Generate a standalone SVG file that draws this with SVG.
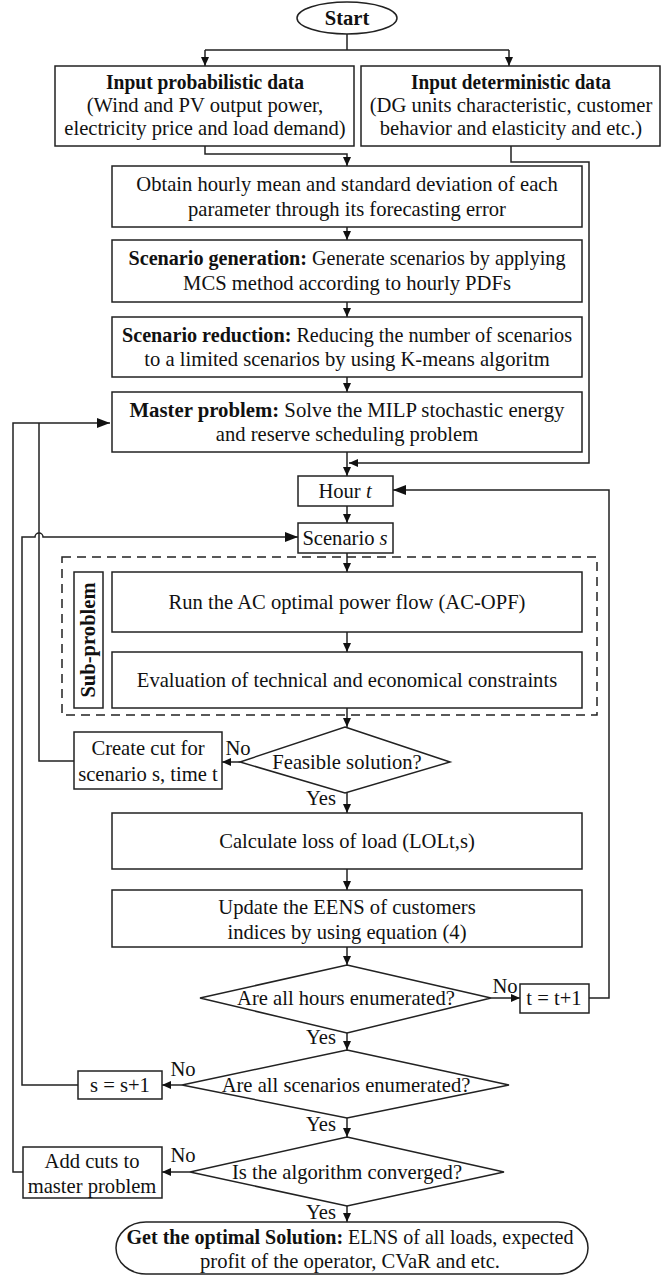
<svg xmlns="http://www.w3.org/2000/svg" width="667" height="1276" viewBox="0 0 667 1276">
<style>
.b{fill:#fff;stroke:#222;stroke-width:1.5}
.t{font-family:"Liberation Serif","Times New Roman",serif;font-size:20.6px;fill:#111;text-anchor:middle}
.bd{font-weight:bold}
.l{fill:none;stroke:#222;stroke-width:1.5}
.la{fill:none;stroke:#222;stroke-width:1.5;marker-end:url(#a)}
.lb{fill:none;stroke:#222;stroke-width:1.5;marker-end:url(#ab)}
</style>
<defs>
<marker id="a" markerWidth="9" markerHeight="8" refX="9" refY="4" orient="auto" markerUnits="userSpaceOnUse"><path d="M0,0 L9,4 L0,8 z" fill="#111"/></marker>
<marker id="ab" markerWidth="13" markerHeight="10" refX="13" refY="5" orient="auto" markerUnits="userSpaceOnUse"><path d="M0,0 L13,5 L0,10 z" fill="#111"/></marker>
</defs>
<rect width="667" height="1276" fill="#fff"/>

<g id="connectors">
<path class="l" d="M347,34 V50 M205,50 H509"/>
<path class="la" d="M205,50 V66"/>
<path class="la" d="M509,50 V66"/>
<path class="la" d="M205,146 V154 H347 V166"/>
<path class="la" d="M347,227 V240"/>
<path class="la" d="M347,302 V317"/>
<path class="la" d="M347,377 V392"/>
<path class="la" d="M511,146 V162 H589 V463 H349"/>
<path class="la" d="M347,452 V476"/>
<path class="la" d="M347,506 V523"/>
<path class="la" d="M347,553 V572"/>
<path class="la" d="M347,632 V652"/>
<path class="la" d="M347,708 V727"/>
<path class="la" d="M240,762 H222"/>
<path class="la" d="M347,793 V813"/>
<path class="la" d="M347,869 V890"/>
<path class="la" d="M347,947 V965"/>
<path class="la" d="M491,998 H520"/>
<path class="lb" d="M589,998 H609 V490 H393"/>
<path class="la" d="M347,1033 V1050"/>
<path class="la" d="M182,1085 H162"/>
<path class="lb" d="M78,1085 H22 V537 H35 A4,4 0 0 1 43,537 H298"/>
<path class="la" d="M347,1118 V1137"/>
<path class="la" d="M190,1172 H162"/>
<path class="lb" d="M23,1172 H13 V423 H110"/>
<path class="l" d="M74,761 H39 V423"/>
<path class="la" d="M347,1206 V1222"/>
</g>

<g id="start">
<ellipse class="b" cx="347" cy="18" rx="50" ry="16"/>
<text class="t bd" x="347" y="25" font-size="19">Start</text>
</g>

<g id="input-prob">
<rect class="b" x="55" y="66" width="299" height="80"/>
<text class="t bd" x="205" y="89" textLength="198" lengthAdjust="spacingAndGlyphs">Input probabilistic data</text>
<text class="t" x="205" y="112">(Wind and PV output power,</text>
<text class="t" x="205" y="135">electricity price and load demand)</text>
</g>

<g id="input-det">
<rect class="b" x="361" y="66" width="299" height="80"/>
<text class="t bd" x="511" y="89" textLength="200" lengthAdjust="spacingAndGlyphs">Input deterministic data</text>
<text class="t" x="511" y="112">(DG units characteristic, customer</text>
<text class="t" x="511" y="135">behavior and elasticity and etc.)</text>
</g>

<g id="obtain">
<rect class="b" x="112" y="166" width="470" height="61"/>
<text class="t" x="347" y="191">Obtain hourly mean and standard deviation of each</text>
<text class="t" x="347" y="216">parameter through its forecasting error</text>
</g>

<g id="scen-gen">
<rect class="b" x="112" y="240" width="470" height="62"/>
<text class="t" x="347" y="265" textLength="437" lengthAdjust="spacingAndGlyphs"><tspan class="bd">Scenario generation:</tspan> Generate scenarios by applying</text>
<text class="t" x="347" y="290">MCS method according to hourly PDFs</text>
</g>

<g id="scen-red">
<rect class="b" x="112" y="317" width="470" height="60"/>
<text class="t" x="347" y="342" textLength="450" lengthAdjust="spacingAndGlyphs"><tspan class="bd">Scenario reduction:</tspan> Reducing the number of scenarios</text>
<text class="t" x="347" y="366">to a limited scenarios by using K-means algoritm</text>
</g>

<g id="master">
<rect class="b" x="112" y="392" width="470" height="60"/>
<text class="t" x="347" y="417" textLength="435" lengthAdjust="spacingAndGlyphs"><tspan class="bd">Master problem:</tspan> Solve the MILP stochastic energy</text>
<text class="t" x="347" y="441">and reserve scheduling problem</text>
</g>

<g id="hour">
<rect class="b" x="298" y="476" width="95" height="30"/>
<text class="t" x="345" y="498">Hour <tspan font-style="italic">t</tspan></text>
</g>

<g id="scenario">
<rect class="b" x="298" y="523" width="95" height="30"/>
<text class="t" x="345" y="545">Scenario <tspan font-style="italic">s</tspan></text>
</g>

<g id="sub-problem">
<rect x="62" y="557" width="535" height="158" fill="none" stroke="#222" stroke-width="1.5" stroke-dasharray="9,6"/>
<rect class="b" x="74" y="572" width="29" height="136"/>
<text class="t bd" transform="translate(95,640) rotate(-90)">Sub-problem</text>
</g>

<g id="acopf">
<rect class="b" x="112" y="572" width="470" height="60"/>
<text class="t" x="347" y="609">Run the AC optimal power flow (AC-OPF)</text>
</g>

<g id="evaluation">
<rect class="b" x="112" y="652" width="470" height="56"/>
<text class="t" x="347" y="687">Evaluation of technical and economical constraints</text>
</g>

<g id="feasible">
<polygon class="b" points="345,727 450,762 345,793 240,762"/>
<text class="t" x="347" y="769">Feasible solution?</text>
<text class="t" x="238" y="755">No</text>
<text class="t" x="321" y="805">Yes</text>
</g>

<g id="create-cut">
<rect class="b" x="74" y="732" width="148" height="57"/>
<text class="t" x="148" y="755">Create cut for</text>
<text class="t" x="148" y="781">scenario s, time t</text>
</g>

<g id="calc">
<rect class="b" x="112" y="813" width="470" height="56"/>
<text class="t" x="347" y="848">Calculate loss of load (LOLt,s)</text>
</g>

<g id="update">
<rect class="b" x="112" y="890" width="470" height="57"/>
<text class="t" x="347" y="914">Update the EENS of customers</text>
<text class="t" x="347" y="939">indices by using equation (4)</text>
</g>

<g id="hours-enum">
<polygon class="b" points="347,965 491,998 347,1033 200,998"/>
<text class="t" x="346" y="1005">Are all hours enumerated?</text>
<text class="t" x="505" y="993">No</text>
<text class="t" x="321" y="1044">Yes</text>
</g>

<g id="t-inc">
<rect class="b" x="520" y="984" width="69" height="29"/>
<text class="t" x="554" y="1005">t = t+1</text>
</g>

<g id="scen-enum">
<polygon class="b" points="347,1050 509,1085 347,1118 182,1085"/>
<text class="t" x="346" y="1092">Are all scenarios enumerated?</text>
<text class="t" x="183" y="1076">No</text>
<text class="t" x="321" y="1131">Yes</text>
</g>

<g id="s-inc">
<rect class="b" x="78" y="1071" width="84" height="28"/>
<text class="t" x="120" y="1092">s = s+1</text>
</g>

<g id="converged">
<polygon class="b" points="347,1137 504,1172 347,1206 190,1172"/>
<text class="t" x="347" y="1179">Is the algorithm converged?</text>
<text class="t" x="183" y="1162">No</text>
<text class="t" x="321" y="1219">Yes</text>
</g>

<g id="add-cuts">
<rect class="b" x="23" y="1147" width="139" height="51"/>
<text class="t" x="92" y="1168">Add cuts to</text>
<text class="t" x="92" y="1193">master problem</text>
</g>

<g id="optimal">
<rect class="b" x="116" y="1222" width="472" height="52" rx="30" ry="26"/>
<text class="t" x="350" y="1244" textLength="447" lengthAdjust="spacingAndGlyphs"><tspan class="bd">Get the optimal Solution:</tspan> ELNS of all loads, expected</text>
<text class="t" x="350" y="1268">profit of the operator, CVaR and etc.</text>
</g>
</svg>
